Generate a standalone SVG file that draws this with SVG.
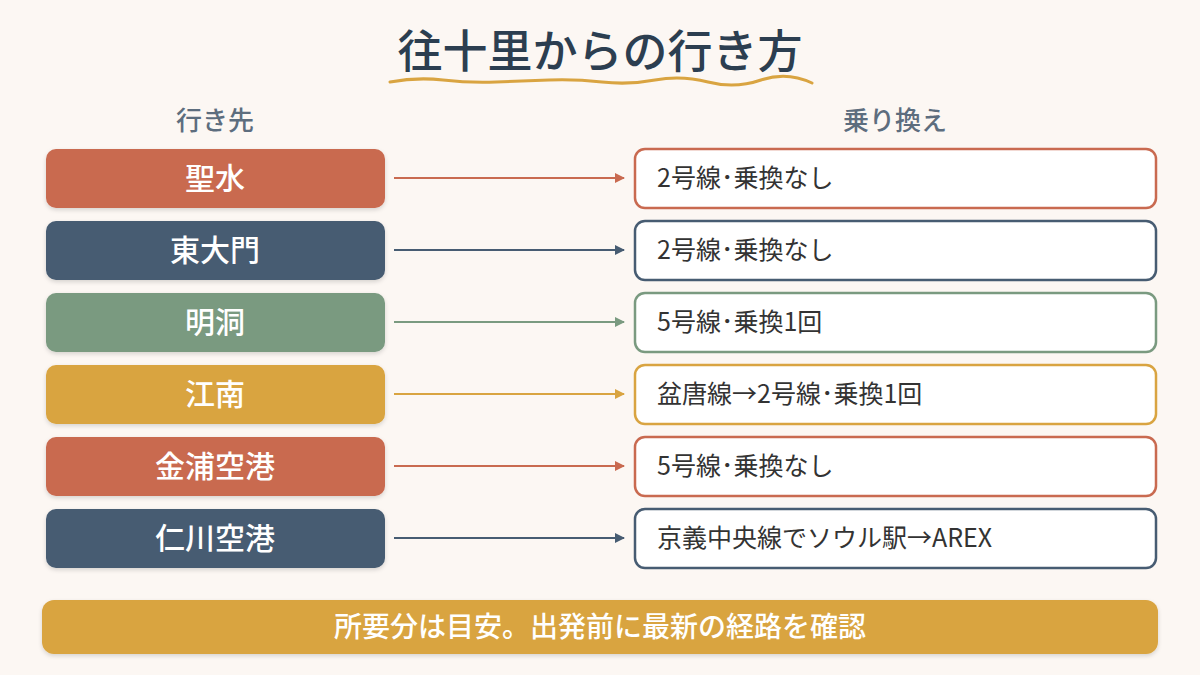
<svg xmlns="http://www.w3.org/2000/svg" width="1200" height="675" viewBox="0 0 1200 675">
<defs>
<filter id="sh" x="-10%" y="-20%" width="120%" height="150%"><feDropShadow dx="0" dy="2" stdDeviation="2" flood-color="#000" flood-opacity="0.15"/></filter>
<marker id="mR" viewBox="0 0 10 10" refX="9" refY="5" markerWidth="10" markerHeight="10" markerUnits="userSpaceOnUse" orient="auto"><path d="M0,0 L10,5 L0,10 Z" fill="#c96a50"/></marker>
<marker id="mB" viewBox="0 0 10 10" refX="9" refY="5" markerWidth="10" markerHeight="10" markerUnits="userSpaceOnUse" orient="auto"><path d="M0,0 L10,5 L0,10 Z" fill="#475c72"/></marker>
<marker id="mG" viewBox="0 0 10 10" refX="9" refY="5" markerWidth="10" markerHeight="10" markerUnits="userSpaceOnUse" orient="auto"><path d="M0,0 L10,5 L0,10 Z" fill="#7a9a80"/></marker>
<marker id="mY" viewBox="0 0 10 10" refX="9" refY="5" markerWidth="10" markerHeight="10" markerUnits="userSpaceOnUse" orient="auto"><path d="M0,0 L10,5 L0,10 Z" fill="#d9a441"/></marker>
</defs>
<style>
text{font-family:"Noto Sans CJK JP","Noto Sans",sans-serif}
.title{font-size:45px;font-weight:500;fill:#2c3e50}
.hdr{font-size:26px;font-weight:500;fill:#5d6d7e}
.lbl{font-size:30px;font-weight:500;fill:#fff}
.dst{font-size:25px;font-weight:400;fill:#333}
.card{fill:#fff;stroke-width:2.5}
.con{stroke-width:2;fill:none}
.note{font-size:28px;font-weight:500;fill:#fff}
</style>
<rect width="1200" height="675" fill="#fcf7f3"/>
<g id="title">
<text class="title" x="600" y="68" text-anchor="middle">往十里からの行き方</text>
<path d="M390,82 Q417,77 443,80 T496,82 T549,80 T602,82 T655,80 T708,82 T761,80 T812,83" fill="none" stroke="#d9a441" stroke-width="3" stroke-linecap="round"/>
</g>
<g id="headers">
<text class="hdr" x="215" y="130" text-anchor="middle">行き先</text>
<text class="hdr" x="895" y="130" text-anchor="middle">乗り換え</text>
</g>
<g id="connectors">
<line class="con" x1="394" y1="178" x2="624" y2="178" stroke="#c96a50" marker-end="url(#mR)"/>
<line class="con" x1="394" y1="250" x2="624" y2="250" stroke="#475c72" marker-end="url(#mB)"/>
<line class="con" x1="394" y1="322" x2="624" y2="322" stroke="#7a9a80" marker-end="url(#mG)"/>
<line class="con" x1="394" y1="394" x2="624" y2="394" stroke="#d9a441" marker-end="url(#mY)"/>
<line class="con" x1="394" y1="466" x2="624" y2="466" stroke="#c96a50" marker-end="url(#mR)"/>
<line class="con" x1="394" y1="538" x2="624" y2="538" stroke="#475c72" marker-end="url(#mB)"/>
</g>
<g id="n1"><rect x="46" y="149" width="339" height="59" rx="10" fill="#c96a50" filter="url(#sh)"/><text class="lbl" x="215" y="189" text-anchor="middle">聖水</text></g>
<g id="n2"><rect x="46" y="221" width="339" height="59" rx="10" fill="#475c72" filter="url(#sh)"/><text class="lbl" x="215" y="261" text-anchor="middle">東大門</text></g>
<g id="n3"><rect x="46" y="293" width="339" height="59" rx="10" fill="#7a9a80" filter="url(#sh)"/><text class="lbl" x="215" y="333" text-anchor="middle">明洞</text></g>
<g id="n4"><rect x="46" y="365" width="339" height="59" rx="10" fill="#d9a441" filter="url(#sh)"/><text class="lbl" x="215" y="405" text-anchor="middle">江南</text></g>
<g id="n5"><rect x="46" y="437" width="339" height="59" rx="10" fill="#c96a50" filter="url(#sh)"/><text class="lbl" x="215" y="477" text-anchor="middle">金浦空港</text></g>
<g id="n6"><rect x="46" y="509" width="339" height="59" rx="10" fill="#475c72" filter="url(#sh)"/><text class="lbl" x="215" y="549" text-anchor="middle">仁川空港</text></g>
<g id="d1"><rect class="card" x="635" y="149" width="521" height="59" rx="10" stroke="#c96a50"/><text class="dst" x="657" y="187">2号線･乗換なし</text></g>
<g id="d2"><rect class="card" x="635" y="221" width="521" height="59" rx="10" stroke="#475c72"/><text class="dst" x="657" y="259">2号線･乗換なし</text></g>
<g id="d3"><rect class="card" x="635" y="293" width="521" height="59" rx="10" stroke="#7a9a80"/><text class="dst" x="657" y="331">5号線･乗換1回</text></g>
<g id="d4"><rect class="card" x="635" y="365" width="521" height="59" rx="10" stroke="#d9a441"/><text class="dst" x="657" y="403">盆唐線→2号線･乗換1回</text></g>
<g id="d5"><rect class="card" x="635" y="437" width="521" height="59" rx="10" stroke="#c96a50"/><text class="dst" x="657" y="475">5号線･乗換なし</text></g>
<g id="d6"><rect class="card" x="635" y="509" width="521" height="59" rx="10" stroke="#475c72"/><text class="dst" x="657" y="547">京義中央線でソウル駅→AREX</text></g>
<g id="note"><rect x="42" y="600" width="1116" height="54" rx="12" fill="#d9a441" filter="url(#sh)"/><text class="note" x="600" y="637" text-anchor="middle">所要分は目安。出発前に最新の経路を確認</text></g>
</svg>
